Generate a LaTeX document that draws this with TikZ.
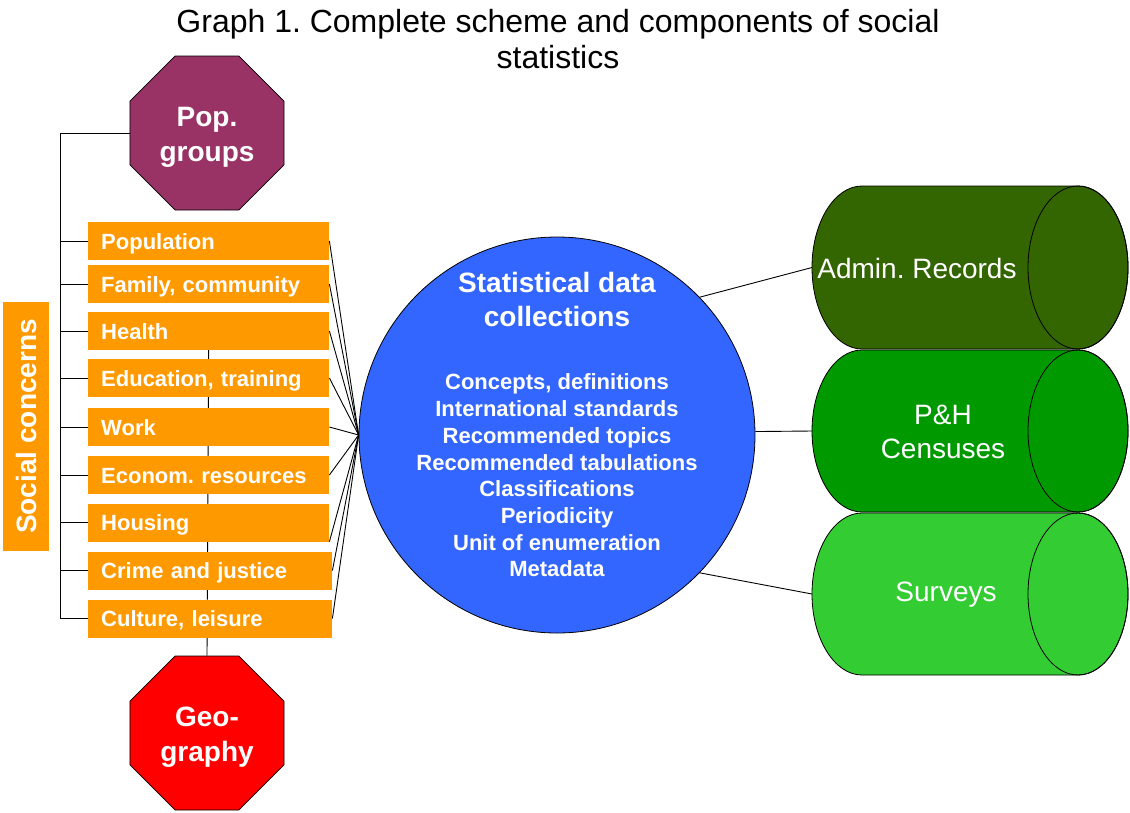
\documentclass[tikz,border=0pt]{standalone}
\usepackage{fontspec}
\setmainfont{Liberation Sans}
\usetikzlibrary{shapes.geometric,backgrounds}
\definecolor{orgc}{HTML}{FF9900}
\definecolor{popc}{HTML}{993366}
\definecolor{geoc}{HTML}{FF0000}
\definecolor{circc}{HTML}{3366FF}
\definecolor{admc}{HTML}{336600}
\definecolor{phc}{HTML}{009900}
\definecolor{survc}{HTML}{33CC33}
\frenchspacing
\newcommand\mycyl[5]{%
  \path[draw=black, line width=0.8pt, fill=#5] (#1,#3-#4) -- (#2,#3-#4)
    arc[start angle=90, end angle=-90, x radius=50pt, y radius=#4pt]
    -- (#1,#3+#4)
    arc[start angle=270, end angle=90, x radius=50pt, y radius=#4pt] -- cycle;
  \draw[line width=0.8pt] (#2,#3) ellipse[x radius=50pt, y radius=#4pt];
}
\begin{document}
\begin{tikzpicture}[x=1pt,y=-1pt,
  conn/.style={draw=black, line width=0.9pt},
  obox/.style={fill=orgc, draw=none, anchor=west, minimum height=38, inner xsep=13, inner ysep=0,
    text width=215, align=left, text=white, font=\fontsize{22}{26}\selectfont\bfseries,
    text height=17, text depth=1},
  oct/.style={regular polygon, regular polygon sides=8, minimum size=166.7, inner sep=0,
    draw=black, line width=0.8pt},
  octtext/.style={text=white, align=center, inner sep=0, font=\fontsize{28}{35}\selectfont\bfseries},
  cyltext/.style={text=white, align=center, font=\fontsize{28}{34}\selectfont, inner sep=0},
  ctext/.style={text=white, align=center, inner sep=0}
]
\useasboundingbox (0,0) rectangle (1130,812);

% title
\node[font=\fontsize{32}{36}\selectfont, align=center, inner sep=0, anchor=north] (title) at (558,9)
  {Graph 1. Complete scheme and components of social\\statistics};

% orange concern boxes
\node[obox] (pop1) at (88,241) {Population};
\node[obox] (fam) at (88,284) {Family, community};
\node[obox] (hea) at (88,331) {Health};
\node[obox] (edu) at (88,378) {Education, training};
\node[obox] (wrk) at (88,427) {Work};
\node[obox] (eco) at (88,475) {Econom. resources};
\node[obox] (hou) at (88,522.5) {Housing};
\node[obox, text width=218] (cri) at (88,570.5) {Crime and justice};
\node[obox, text width=218] (cul) at (88,618.5) {Culture, leisure};

% social concerns
\node[fill=orgc, rotate=90, minimum width=249, minimum height=46, inner sep=0, text=white,
  font=\fontsize{28}{34}\selectfont\bfseries] (soc) at (26,426.5) {Social concerns};

% octagons
\node[oct, fill=popc] (popg) at (207,133) {};
\node[octtext] (popgt) at (207,137) {Pop.\\groups};
\node[oct, fill=geoc] (geo) at (207,733) {};
\node[octtext] (geot) at (207,737) {Geo-\\graphy};

% circle
\node[circle, fill=circc, draw=black, line width=0.8pt, minimum size=396, inner sep=0] (circ) at (557,435) {};
\node[ctext, font=\fontsize{28}{34}\selectfont\bfseries] (chead) at (557,299) {Statistical data\\collections};
\node[ctext, font=\fontsize{22}{26.7}\selectfont\bfseries] (clist) at (557,475.5)
  {Concepts, definitions\\International standards\\Recommended topics\\Recommended tabulations\\Classifications\\Periodicity\\Unit of enumeration\\Metadata};

% cylinders
\mycyl{862}{1078}{267.5}{81.5}{admc}
\mycyl{862}{1078}{431}{81}{phc}
\mycyl{862}{1078}{594}{81}{survc}
\node[cyltext] (admt) at (917,268) {Admin. Records};
\coordinate (admL) at (812,267.5);
\node[cyltext] (pht) at (943,432) {P\&H\\Censuses};
\coordinate (phL) at (812,431);
\node[cyltext] (survt) at (946,595) {Surveys};
\coordinate (survL) at (812,594);

\draw[conn] (circ.44) -- (admL);
\draw[conn] (circ.1) -- (phL);
\draw[conn] (circ.-44) -- (survL);

% fan to circle
\foreach \n in {pop1,fam,hea,edu,wrk,eco,cri,cul} \draw[conn] (\n.east) -- (circ.west);
\draw[conn] (hou.south east) -- (circ.west);

% left bracket
\coordinate (brtop) at (60,133);
\draw[conn] (popg.west) -- (brtop) -- (brtop |- cul.west) -- (cul.west);
\foreach \n in {pop1,fam,hea,edu,wrk,eco,hou,cri} \draw[conn] (\n.west) -- (\n.west -| brtop);

\begin{scope}[on background layer]
  \fill[white] (0,0) rectangle (1130,812);
  \draw[conn] (hea.center) -- (geo.north);
\end{scope}
\end{tikzpicture}
\end{document}
